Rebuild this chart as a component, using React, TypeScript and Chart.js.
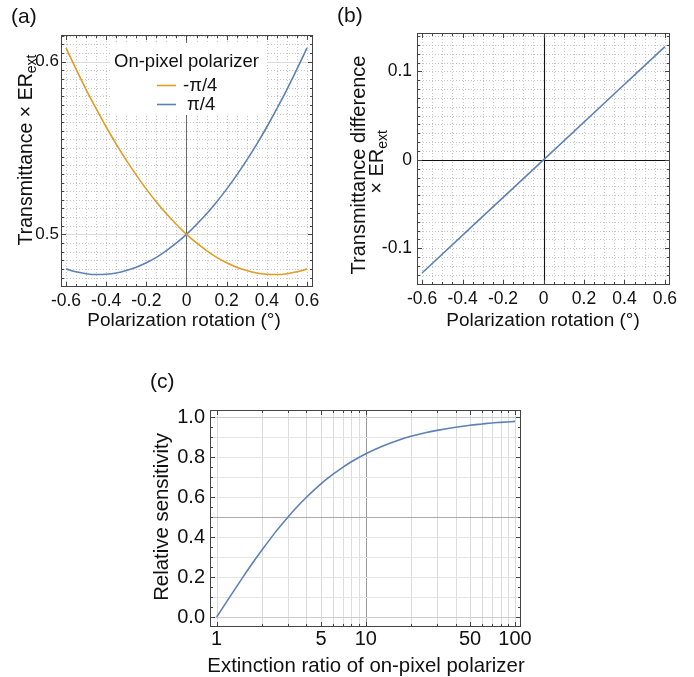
import React, { useEffect, useRef } from "react";
import { Chart, registerables } from "chart.js";

Chart.register(...registerables);

const FONT = "'Liberation Sans', Arial, Helvetica, sans-serif";
const BLUE = "#5E81B5";
const ORANGE = "#E19C24";
const TEXT = "#111";
const FRAME = "#444";

// ---------- data ----------
const ROTATION = [
  -0.6, -0.55, -0.5, -0.45, -0.4, -0.35, -0.3, -0.25, -0.2, -0.15, -0.1, -0.05, 0,
  0.05, 0.1, 0.15, 0.2, 0.25, 0.3, 0.35, 0.4, 0.45, 0.5, 0.55, 0.6,
];
const T_MINUS_PI4 = [
  0.608, 0.5957, 0.5839, 0.5728, 0.5622, 0.5523, 0.543, 0.5343, 0.5262, 0.5188, 0.5119, 0.5057, 0.5,
  0.495, 0.4906, 0.4867, 0.4836, 0.481, 0.479, 0.4776, 0.4769, 0.4767, 0.4772, 0.4783, 0.48,
];
const T_PLUS_PI4 = [
  0.48, 0.4783, 0.4772, 0.4767, 0.4769, 0.4776, 0.479, 0.481, 0.4836, 0.4867, 0.4906, 0.495, 0.5,
  0.5057, 0.5119, 0.5188, 0.5262, 0.5343, 0.543, 0.5523, 0.5622, 0.5728, 0.5839, 0.5957, 0.608,
];
const DIFF_ROTATION = [-0.6, -0.3, 0, 0.3, 0.6];
const T_DIFFERENCE = [-0.128, -0.064, 0, 0.064, 0.128];
const EXTINCTION_RATIO = [
  1, 1.25, 1.5, 1.75, 2, 2.5, 3, 3.5, 4, 5, 6, 7, 8, 10, 13, 16, 20, 25, 30, 40, 50, 60, 70, 80, 100,
];
const REL_SENSITIVITY = [
  0, 0.111, 0.2, 0.273, 0.333, 0.429, 0.5, 0.556, 0.6, 0.667, 0.714, 0.75, 0.778, 0.818, 0.857,
  0.882, 0.905, 0.923, 0.935, 0.951, 0.961, 0.967, 0.972, 0.975, 0.98,
];

const ROT_TICKS = [-0.6, -0.4, -0.2, 0, 0.2, 0.4, 0.6];
const ROT_TICK_LABELS = ["-0.6", "-0.4", "-0.2", "0", "0.2", "0.4", "0.6"];
const A_Y_TICKS = [0.5, 0.6];
const A_Y_TICK_LABELS = ["0.5", "0.6"];
const B_Y_TICKS = [-0.1, 0, 0.1];
const B_Y_TICK_LABELS = ["-0.1", "0", "0.1"];
const C_X_TICKS = [1, 5, 10, 50, 100];
const C_X_TICK_LABELS = ["1", "5", "10", "50", "100"];
const C_X_MINOR = [1, 2, 3, 4, 5, 6, 7, 8, 9, 10, 20, 30, 40, 50, 60, 70, 80, 90, 100];
const C_Y_TICKS = [0, 0.2, 0.4, 0.6, 0.8, 1.0];
const C_Y_TICK_LABELS = ["0.0", "0.2", "0.4", "0.6", "0.8", "1.0"];

const LEGEND_TITLE = "On-pixel polarizer";
const SERIES_NAMES = ["-π/4", "π/4"];

// ---------- helpers ----------
function range(a: number, b: number, step: number): number[] {
  const out: number[] = [];
  const n = Math.round((b - a) / step);
  for (let i = 0; i <= n; i++) out.push(Math.round((a + i * step) * 1e6) / 1e6);
  return out;
}
const ROT_MINOR = range(-0.6, 0.6, 0.05);
const A_Y_MINOR = range(0.47, 0.615, 0.005);
const B_Y_MINOR = range(-0.14, 0.14, 0.01);
const C_Y_GRID = range(0, 1, 0.1);
const C_Y_MARKS = range(0, 1, 0.05);

const snap = (p: number) => Math.round(p) + 0.5;
const near = (a: number, b: number) => Math.abs(a - b) < 1e-9;
const marks = (minor: number[], major: number[]) =>
  minor.map((v) => ({ v, major: major.some((m) => near(m, v)) }));

type GLine = { v: number; color: string; width?: number; dash?: number[] };

function strokeLine(ctx: CanvasRenderingContext2D, x1: number, y1: number, x2: number, y2: number, l: GLine) {
  ctx.save();
  ctx.strokeStyle = l.color;
  ctx.lineWidth = l.width ?? 1;
  ctx.setLineDash(l.dash ?? []);
  ctx.beginPath();
  ctx.moveTo(x1, y1);
  ctx.lineTo(x2, y2);
  ctx.stroke();
  ctx.restore();
}

function drawText(ctx: CanvasRenderingContext2D, s: string, x: number, y: number, size: number, align: CanvasTextAlign = "left") {
  ctx.save();
  ctx.font = `${size}px ${FONT}`;
  ctx.fillStyle = TEXT;
  ctx.textAlign = align;
  ctx.textBaseline = "alphabetic";
  ctx.fillText(s, x, y);
  ctx.restore();
}

// text with optional subscript, centered at (cx, baseline) possibly rotated
function drawSubText(
  ctx: CanvasRenderingContext2D, main: string, sub: string, cx: number, cy: number,
  size: number, subSize: number, rotated: boolean
) {
  ctx.save();
  ctx.fillStyle = TEXT;
  ctx.textBaseline = "alphabetic";
  ctx.textAlign = "left";
  ctx.font = `${size}px ${FONT}`;
  const w1 = ctx.measureText(main).width;
  ctx.font = `${subSize}px ${FONT}`;
  const w2 = sub ? ctx.measureText(sub).width : 0;
  const total = w1 + w2;
  ctx.translate(cx, cy);
  if (rotated) ctx.rotate(-Math.PI / 2);
  ctx.font = `${size}px ${FONT}`;
  ctx.fillText(main, -total / 2, 0);
  if (sub) {
    ctx.font = `${subSize}px ${FONT}`;
    ctx.fillText(sub, -total / 2 + w1, size * 0.18);
  }
  ctx.restore();
}

interface Decor {
  vLines: GLine[];
  hLines: GLine[];
  xMarks: { v: number; major: boolean }[];
  yMarks: { v: number; major: boolean }[];
  beforeData?: (chart: Chart) => void;
  texts: (chart: Chart) => void;
}

function decorPlugin(id: string, d: Decor) {
  return {
    id,
    beforeDatasetsDraw(chart: Chart) {
      const { ctx, chartArea: a, scales } = chart as any;
      ctx.save();
      ctx.beginPath();
      ctx.rect(a.left, a.top, a.right - a.left, a.bottom - a.top);
      ctx.clip();
      for (const l of d.vLines) {
        const x = snap(scales.x.getPixelForValue(l.v));
        strokeLine(ctx, x, a.top, x, a.bottom, l);
      }
      for (const l of d.hLines) {
        const y = snap(scales.y.getPixelForValue(l.v));
        strokeLine(ctx, a.left, y, a.right, y, l);
      }
      ctx.restore();
      if (d.beforeData) d.beforeData(chart);
    },
    afterDatasetsDraw(chart: Chart) {
      const { ctx, chartArea: a, scales } = chart as any;
      ctx.save();
      ctx.strokeStyle = FRAME;
      ctx.lineWidth = 1;
      ctx.setLineDash([]);
      const L = Math.round(a.left), T = Math.round(a.top), R = Math.round(a.right), B = Math.round(a.bottom);
      ctx.strokeRect(L + 0.5, T + 0.5, R - L - 1, B - T - 1);
      ctx.beginPath();
      for (const t of d.xMarks) {
        const x = snap(scales.x.getPixelForValue(t.v));
        const len = t.major ? 5 : 3;
        ctx.moveTo(x, B); ctx.lineTo(x, B - len);
        ctx.moveTo(x, T); ctx.lineTo(x, T + len);
      }
      for (const t of d.yMarks) {
        const y = snap(scales.y.getPixelForValue(t.v));
        const len = t.major ? 5 : 3;
        ctx.moveTo(L, y); ctx.lineTo(L + len, y);
        ctx.moveTo(R, y); ctx.lineTo(R - len, y);
      }
      ctx.stroke();
      ctx.restore();
    },
    afterDraw(chart: Chart) {
      d.texts(chart);
    },
  };
}

function axis(type: string, min: number, max: number, ticks: number[], labels: string[], size: number, pad: number, fit: number, isX: boolean) {
  return {
    type,
    min,
    max,
    grid: { display: false, drawTicks: false },
    border: { display: false },
    ticks: {
      autoSkip: false,
      maxRotation: 0,
      minRotation: 0,
      padding: pad,
      color: TEXT,
      font: { family: FONT, size },
      callback: (v: number) => {
        const i = ticks.findIndex((t) => Math.abs(t - v) < 1e-9 * Math.max(1, Math.abs(t)));
        return i >= 0 ? labels[i] : "";
      },
    },
    afterBuildTicks: (s: any) => {
      s.ticks = ticks.map((v) => ({ value: v }));
    },
    afterFit: (s: any) => {
      if (isX) s.height = fit;
      else s.width = fit;
    },
  };
}

function baseOptions(padding: any, x: any, y: any) {
  return {
    animation: false,
    responsive: false,
    devicePixelRatio: 1,
    layout: { padding, autoPadding: false },
    plugins: { legend: { display: false }, tooltip: { enabled: false } },
    elements: { point: { radius: 0 }, line: { borderWidth: 1.6 } },
    scales: { x, y },
  } as any;
}

const DOTTED = { color: "#c6c6c6", width: 1, dash: [1, 2] };

// ---------- panel (a) ----------
function configA(): any {
  const decor: Decor = {
    vLines: [
      ...ROT_MINOR.map((v) => ({ v, ...DOTTED })),
      { v: 0, color: "#6a6a6a", width: 1 },
    ],
    hLines: [
      ...A_Y_MINOR.map((v) => ({ v, ...DOTTED })),
      ...A_Y_TICKS.map((v) => ({ v, color: "#dcdcdc", width: 1 })),
    ],
    xMarks: marks(ROT_MINOR, ROT_TICKS),
    yMarks: marks(A_Y_MINOR, A_Y_TICKS),
    beforeData: (chart) => {
      const ctx = chart.ctx;
      ctx.save();
      ctx.fillStyle = "#fff";
      ctx.fillRect(110, 43, 157, 72);
      ctx.restore();
      drawText(ctx, LEGEND_TITLE, 114, 67, 18.5);
      const colors = [ORANGE, BLUE];
      const ys = [85, 104];
      const tx = [183, 187];
      SERIES_NAMES.forEach((name, i) => {
        strokeLine(ctx, 157, ys[i] + 0.5, 176, ys[i] + 0.5, { v: 0, color: colors[i], width: 1.6 });
        drawText(ctx, name, tx[i], ys[i] + 6, 18.5);
      });
    },
    texts: (chart) => {
      const ctx = chart.ctx;
      drawText(ctx, "(a)", 11, 23, 21);
      drawSubText(ctx, "Transmittance × ER", "ext", 32, 150, 19.5, 14, true);
      drawSubText(ctx, "Polarization rotation (°)", "", 184, 326, 19, 14, false);
    },
  };
  return {
    type: "line",
    data: {
      datasets: [
        { label: SERIES_NAMES[0], data: ROTATION.map((x, i) => ({ x, y: T_MINUS_PI4[i] })), borderColor: ORANGE, cubicInterpolationMode: "monotone" },
        { label: SERIES_NAMES[1], data: ROTATION.map((x, i) => ({ x, y: T_PLUS_PI4[i] })), borderColor: BLUE, cubicInterpolationMode: "monotone" },
      ],
    },
    options: baseOptions(
      { left: 0, top: 35, right: 19, bottom: 0 },
      axis("linear", -0.625, 0.63, ROT_TICKS, ROT_TICK_LABELS, 17.5, 3.5, 58, true),
      axis("linear", 0.4695, 0.6155, A_Y_TICKS, A_Y_TICK_LABELS, 17, 2, 61, false)
    ),
    plugins: [decorPlugin("decorA", decor)],
  };
}

// ---------- panel (b) ----------
function configB(): any {
  const decor: Decor = {
    vLines: [
      ...ROT_MINOR.map((v) => ({ v, ...DOTTED })),
      { v: 0, color: "#111", width: 1.1 },
    ],
    hLines: [
      ...B_Y_MINOR.map((v) => ({ v, ...DOTTED })),
      { v: 0, color: "#111", width: 1.1 },
    ],
    xMarks: marks(ROT_MINOR, ROT_TICKS),
    yMarks: marks(B_Y_MINOR, B_Y_TICKS),
    texts: (chart) => {
      const ctx = chart.ctx;
      drawText(ctx, "(b)", 5, 22, 21);
      drawSubText(ctx, "Transmittance difference", "", 33, 165, 20, 14, true);
      drawSubText(ctx, "× ER", "ext", 51, 162, 20, 14, true);
      drawSubText(ctx, "Polarization rotation (°)", "", 211, 326, 19, 14, false);
    },
  };
  return {
    type: "line",
    data: {
      datasets: [
        { label: "difference", data: DIFF_ROTATION.map((x, i) => ({ x, y: T_DIFFERENCE[i] })), borderColor: BLUE },
      ],
    },
    options: baseOptions(
      { left: 0, top: 33, right: 24, bottom: 0 },
      axis("linear", -0.625, 0.625, ROT_TICKS, ROT_TICK_LABELS, 17.5, 3.5, 60, true),
      axis("linear", -0.1416, 0.1435, B_Y_TICKS, B_Y_TICK_LABELS, 17.5, 5, 85, false)
    ),
    plugins: [decorPlugin("decorB", decor)],
  };
}

// ---------- panel (c) ----------
function configC(): any {
  const decor: Decor = {
    vLines: C_X_MINOR.map((v) => ({ v, color: v === 10 ? "#9a9a9a" : "#dcdcdc", width: 1 })),
    hLines: C_Y_GRID.map((v) => ({
      v,
      color: near(v, 0.5) ? "#ababab" : near(v, 0) || near(v, 1) ? "#cdcdcd" : "#e4e4e4",
      width: 1,
    })),
    xMarks: marks(C_X_MINOR, C_X_TICKS),
    yMarks: marks(C_Y_MARKS, C_Y_TICKS),
    texts: (chart) => {
      const ctx = chart.ctx;
      drawText(ctx, "(c)", 150, 48, 21);
      drawSubText(ctx, "Relative sensitivity", "", 168, 177, 20.4, 14, true);
      drawSubText(ctx, "Extinction ratio of on-pixel polarizer", "", 366, 332, 20.4, 14, false);
    },
  };
  return {
    type: "line",
    data: {
      datasets: [
        { label: "sensitivity", data: EXTINCTION_RATIO.map((x, i) => ({ x, y: REL_SENSITIVITY[i] })), borderColor: BLUE, cubicInterpolationMode: "monotone" },
      ],
    },
    options: baseOptions(
      { left: 0, top: 70, right: 173, bottom: 0 },
      axis("logarithmic", 0.902, 109.7, C_X_TICKS, C_X_TICK_LABELS, 20, 0, 50, true),
      axis("linear", -0.05, 1.037, C_Y_TICKS, C_Y_TICK_LABELS, 20, 5, 210, false)
    ),
    plugins: [decorPlugin("decorC", decor)],
  };
}

export default function App() {
  const refA = useRef<HTMLCanvasElement>(null);
  const refB = useRef<HTMLCanvasElement>(null);
  const refC = useRef<HTMLCanvasElement>(null);

  useEffect(() => {
    const charts = [
      new Chart(refA.current as HTMLCanvasElement, configA()),
      new Chart(refB.current as HTMLCanvasElement, configB()),
      new Chart(refC.current as HTMLCanvasElement, configC()),
    ];
    return () => charts.forEach((c) => c.destroy());
  }, []);

  return (
    <div style={{ position: "absolute", left: 0, top: 0, width: 694, height: 677, background: "#fff", overflow: "hidden" }}>
      <canvas ref={refA} width={332} height={345} style={{ position: "absolute", left: 0, top: 0, width: 332, height: 345 }} />
      <canvas ref={refB} width={362} height={345} style={{ position: "absolute", left: 332, top: 0, width: 362, height: 345 }} />
      <canvas ref={refC} width={694} height={337} style={{ position: "absolute", left: 0, top: 340, width: 694, height: 337 }} />
    </div>
  );
}
